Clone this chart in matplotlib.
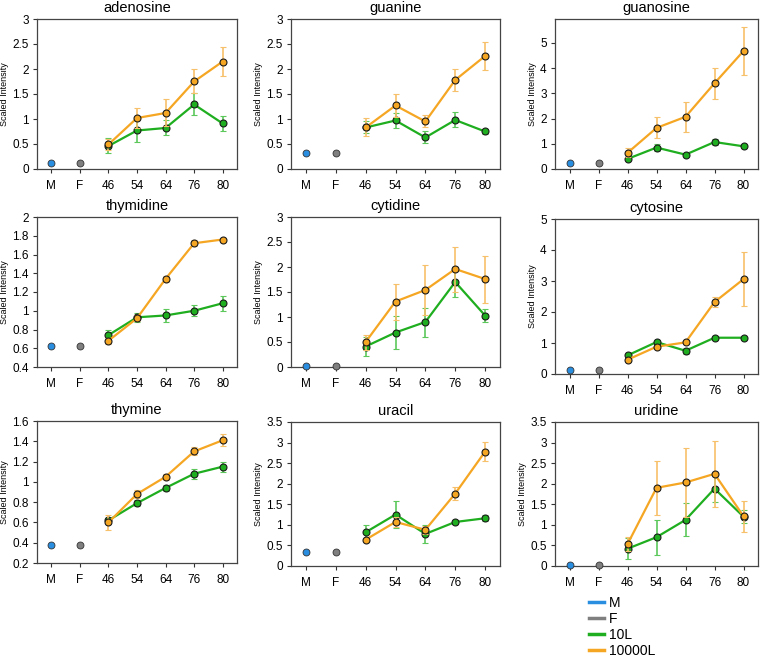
import matplotlib
matplotlib.use("Agg")
import matplotlib.pyplot as plt
from matplotlib.lines import Line2D

plt.rcParams['font.family'] = ['Liberation Sans', 'DejaVu Sans']

groups = ['M', 'F', '46', '54', '64', '76', '80']

titles = ['adenosine', 'guanine', 'guanosine',
          'thymidine', 'cytidine', 'cytosine',
          'thymine', 'uracil', 'uridine']

# M and F controls (single value)
ctrl = [0.12, 0.31, 0.22, 0.62, 0.02, 0.13, 0.38, 0.35, 0.03]

# 10L series (46..80) and error
l10 = [
    [0.46, 0.77, 0.82, 1.29, 0.91],
    [0.83, 0.97, 0.63, 0.98, 0.75],
    [0.40, 0.85, 0.57, 1.07, 0.90],
    [0.74, 0.93, 0.95, 1.00, 1.08],
    [0.41, 0.69, 0.90, 1.70, 1.03],
    [0.60, 1.03, 0.75, 1.17, 1.17],
    [0.62, 0.79, 0.94, 1.08, 1.15],
    [0.82, 1.25, 0.78, 1.07, 1.16],
    [0.42, 0.70, 1.12, 1.88, 1.20],
]
l10_err = [
    [0.15, 0.24, 0.15, 0.22, 0.15],
    [0.12, 0.15, 0.12, 0.15, 0.05],
    [0.05, 0.15, 0.08, 0.12, 0.05],
    [0.05, 0.05, 0.07, 0.06, 0.08],
    [0.19, 0.33, 0.29, 0.30, 0.13],
    [0.05, 0.05, 0.10, 0.05, 0.03],
    [0.02, 0.03, 0.03, 0.05, 0.05],
    [0.18, 0.33, 0.22, 0.05, 0.07],
    [0.25, 0.43, 0.40, 0.33, 0.15],
]

# 10000L series (46..80) and error
l10000 = [
    [0.49, 1.02, 1.12, 1.75, 2.15],
    [0.83, 1.27, 0.95, 1.78, 2.26],
    [0.64, 1.63, 2.07, 3.40, 4.68],
    [0.68, 0.92, 1.34, 1.72, 1.76],
    [0.50, 1.31, 1.54, 1.96, 1.76],
    [0.46, 0.88, 1.02, 2.32, 3.06],
    [0.60, 0.88, 1.05, 1.30, 1.41],
    [0.64, 1.07, 0.88, 1.76, 2.78],
    [0.53, 1.90, 2.03, 2.24, 1.21],
]
l10000_err = [
    [0.11, 0.20, 0.27, 0.24, 0.29],
    [0.18, 0.23, 0.12, 0.22, 0.28],
    [0.18, 0.42, 0.60, 0.62, 0.95],
    [0.03, 0.03, 0.03, 0.03, 0.01],
    [0.15, 0.36, 0.50, 0.45, 0.47],
    [0.05, 0.05, 0.05, 0.17, 0.88],
    [0.07, 0.04, 0.03, 0.04, 0.06],
    [0.05, 0.13, 0.10, 0.16, 0.24],
    [0.17, 0.66, 0.83, 0.80, 0.38],
]

ylims = [(0, 3), (0, 3), (0, 5.95), (0.4, 2), (0, 3), (0, 5),
         (0.2, 1.6), (0, 3.5), (0, 3.5)]
yticks = [
    [0, 0.5, 1, 1.5, 2, 2.5, 3],
    [0, 0.5, 1, 1.5, 2, 2.5, 3],
    [0, 1, 2, 3, 4, 5],
    [0.4, 0.6, 0.8, 1, 1.2, 1.4, 1.6, 1.8, 2],
    [0, 0.5, 1, 1.5, 2, 2.5, 3],
    [0, 1, 2, 3, 4, 5],
    [0.2, 0.4, 0.6, 0.8, 1, 1.2, 1.4, 1.6],
    [0, 0.5, 1, 1.5, 2, 2.5, 3, 3.5],
    [0, 0.5, 1, 1.5, 2, 2.5, 3, 3.5],
]

c_m = '#2a8ee0'
c_f = '#7f7f7f'
c_10 = '#1fae1f'
c_10000 = '#f5a623'

W, H = 760, 662
fig = plt.figure(figsize=(7.6, 6.62), dpi=100)

# axes boxes in pixels: left, top, right, bottom
cols = [(37, 237), (291, 500), (555, 758)]
rows = [[(19, 169), (19, 169), (19, 169)],
        [(217, 367), (217, 367), (219, 374)],
        [(421, 563), (422, 566), (422, 566)]]

for i in range(9):
    r, c = divmod(i, 3)
    l, rr = cols[c]
    t, b = rows[r][c]
    ax = fig.add_axes([l / W, 1 - b / H, (rr - l) / W, (b - t) / H])
    x = list(range(len(groups)))
    xs = x[2:]
    ax.errorbar(xs, l10[i], yerr=l10_err[i], color=c_10, lw=1.6,
                ecolor='#5cc85c', elinewidth=1.2, capsize=2.5, capthick=1.0,
                marker='o', ms=5, mfc=c_10, mec='#1a1a1a', mew=0.8, zorder=3)
    ax.errorbar(xs, l10000[i], yerr=l10000_err[i], color=c_10000, lw=1.6,
                ecolor='#f7c06a', elinewidth=1.2, capsize=2.5, capthick=1.0,
                marker='o', ms=5, mfc=c_10000, mec='#1a1a1a', mew=0.8, zorder=4)
    ax.plot([0], [ctrl[i]], 'o', ms=5, mfc=c_m, mec='#333333', mew=0.6,
            zorder=5, clip_on=False)
    ax.plot([1], [ctrl[i]], 'o', ms=5, mfc=c_f, mec='#333333', mew=0.6,
            zorder=5, clip_on=False)
    ax.set_xlim(-0.5, 6.5)
    ax.set_ylim(*ylims[i])
    ax.set_xticks(x)
    ax.set_xticklabels(groups)
    ax.set_yticks(yticks[i])
    ax.set_yticklabels(['%g' % v for v in yticks[i]])
    ax.tick_params(labelsize=8.5, length=3, width=0.8, color='#333333',
                   direction='out', pad=3)
    ax.tick_params(axis='x', pad=5)
    for s in ax.spines.values():
        s.set_color('#444444')
        s.set_linewidth(0.9)
    ax.set_title(titles[i], fontsize=10.5, pad=5)
    ax.set_ylabel('Scaled Intensity', fontsize=6.5, labelpad=2)

handles = [Line2D([], [], color=c_m, lw=2.5),
           Line2D([], [], color=c_f, lw=2.5),
           Line2D([], [], color=c_10, lw=2.5),
           Line2D([], [], color=c_10000, lw=2.5)]
fig.legend(handles, ['M', 'F', '10L', '10000L'], loc='upper left',
           bbox_to_anchor=(583 / W, 1 - 590 / H), frameon=False,
           fontsize=10, handlelength=1.1, handletextpad=0.35,
           labelspacing=0.15, borderaxespad=0)

fig.savefig('out.png', dpi=100)
